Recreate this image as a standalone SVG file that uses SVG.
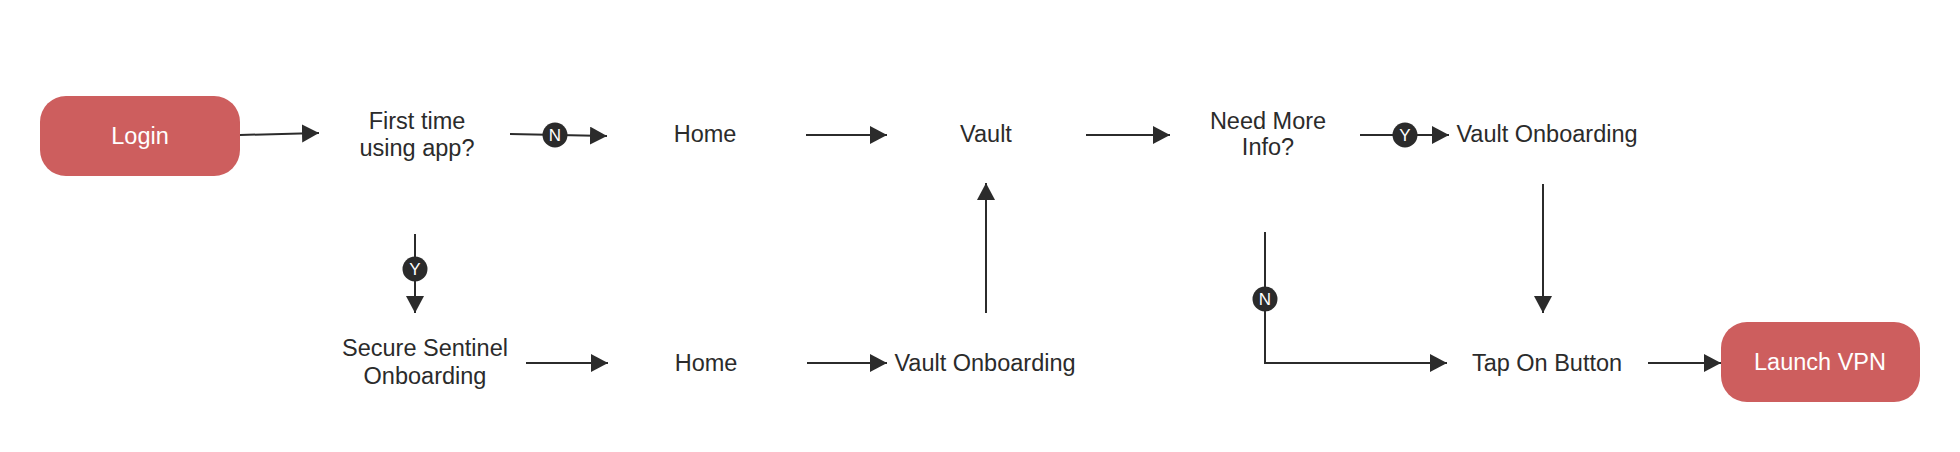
<svg xmlns="http://www.w3.org/2000/svg" width="1960" height="452" viewBox="0 0 1960 452">
<style>
  .term { fill: #cd5e5e; }
  .termtxt { font-family: "Liberation Sans", Arial, sans-serif; font-size: 23.5px; fill: #ffffff; text-anchor: middle; dominant-baseline: central; }
  .txt { font-family: "Liberation Sans", Arial, sans-serif; font-size: 23.5px; fill: #2b2b2b; text-anchor: middle; dominant-baseline: central; }
  .conn { fill: none; stroke: #2b2b2b; stroke-width: 2; }
  .badge { fill: #2b2b2b; }
  .badgetxt { font-family: "Liberation Sans", Arial, sans-serif; font-size: 17px; fill: #ffffff; text-anchor: middle; dominant-baseline: central; }
</style>
<defs>
  <marker id="arr" markerUnits="userSpaceOnUse" markerWidth="18" markerHeight="19" refX="17" refY="9" orient="auto" viewBox="0 0 18 19">
    <path d="M0,0 L17,9 L0,18 Z" fill="#2b2b2b"/>
  </marker>
</defs>
<rect width="1960" height="452" fill="#ffffff"/>
<g id="connectors">
  <path class="conn" d="M240,135 L319,133" marker-end="url(#arr)"/>
  <path class="conn" d="M510,134 L607,136" marker-end="url(#arr)"/>
  <path class="conn" d="M806,135 L887,135" marker-end="url(#arr)"/>
  <path class="conn" d="M1086,135 L1170,135" marker-end="url(#arr)"/>
  <path class="conn" d="M1360,135 L1449,135" marker-end="url(#arr)"/>
  <path class="conn" d="M1543,184 L1543,313" marker-end="url(#arr)"/>
  <path class="conn" d="M1265,232 L1265,363 L1447,363" marker-end="url(#arr)"/>
  <path class="conn" d="M1648,363 L1721,363" marker-end="url(#arr)"/>
  <path class="conn" d="M415,234 L415,313" marker-end="url(#arr)"/>
  <path class="conn" d="M526,363 L608,363" marker-end="url(#arr)"/>
  <path class="conn" d="M807,363 L887,363" marker-end="url(#arr)"/>
  <path class="conn" d="M986,313 L986,183" marker-end="url(#arr)"/>
  <g id="badge-n1"><circle class="badge" cx="555" cy="135" r="12.5"/><text class="badgetxt" x="555" y="135">N</text></g>
  <g id="badge-y1"><circle class="badge" cx="1405" cy="135" r="12.5"/><text class="badgetxt" x="1405" y="135">Y</text></g>
  <g id="badge-y2"><circle class="badge" cx="415" cy="269" r="12.5"/><text class="badgetxt" x="415" y="269">Y</text></g>
  <g id="badge-n2"><circle class="badge" cx="1265" cy="299" r="12.5"/><text class="badgetxt" x="1265" y="299">N</text></g>
</g>
<g id="login"><rect class="term" x="40" y="96" width="200" height="80" rx="26"/><text class="termtxt" x="140" y="136">Login</text></g>
<g id="first-time"><text class="txt" x="417" y="121">First time</text><text class="txt" x="417" y="148">using app?</text></g>
<g id="home-top"><text class="txt" x="705" y="134">Home</text></g>
<g id="vault"><text class="txt" x="986" y="134">Vault</text></g>
<g id="need-more"><text class="txt" x="1268" y="121">Need More</text><text class="txt" x="1268" y="147">Info?</text></g>
<g id="vault-onboarding-top"><text class="txt" x="1547" y="134">Vault Onboarding</text></g>
<g id="secure-sentinel"><text class="txt" x="425" y="348">Secure Sentinel</text><text class="txt" x="425" y="376">Onboarding</text></g>
<g id="home-bottom"><text class="txt" x="706" y="363">Home</text></g>
<g id="vault-onboarding-bottom"><text class="txt" x="985" y="363">Vault Onboarding</text></g>
<g id="tap-on-button"><text class="txt" x="1547" y="363">Tap On Button</text></g>
<g id="launch-vpn"><rect class="term" x="1721" y="322" width="199" height="80" rx="26"/><text class="termtxt" x="1820" y="362">Launch VPN</text></g>
</svg>
